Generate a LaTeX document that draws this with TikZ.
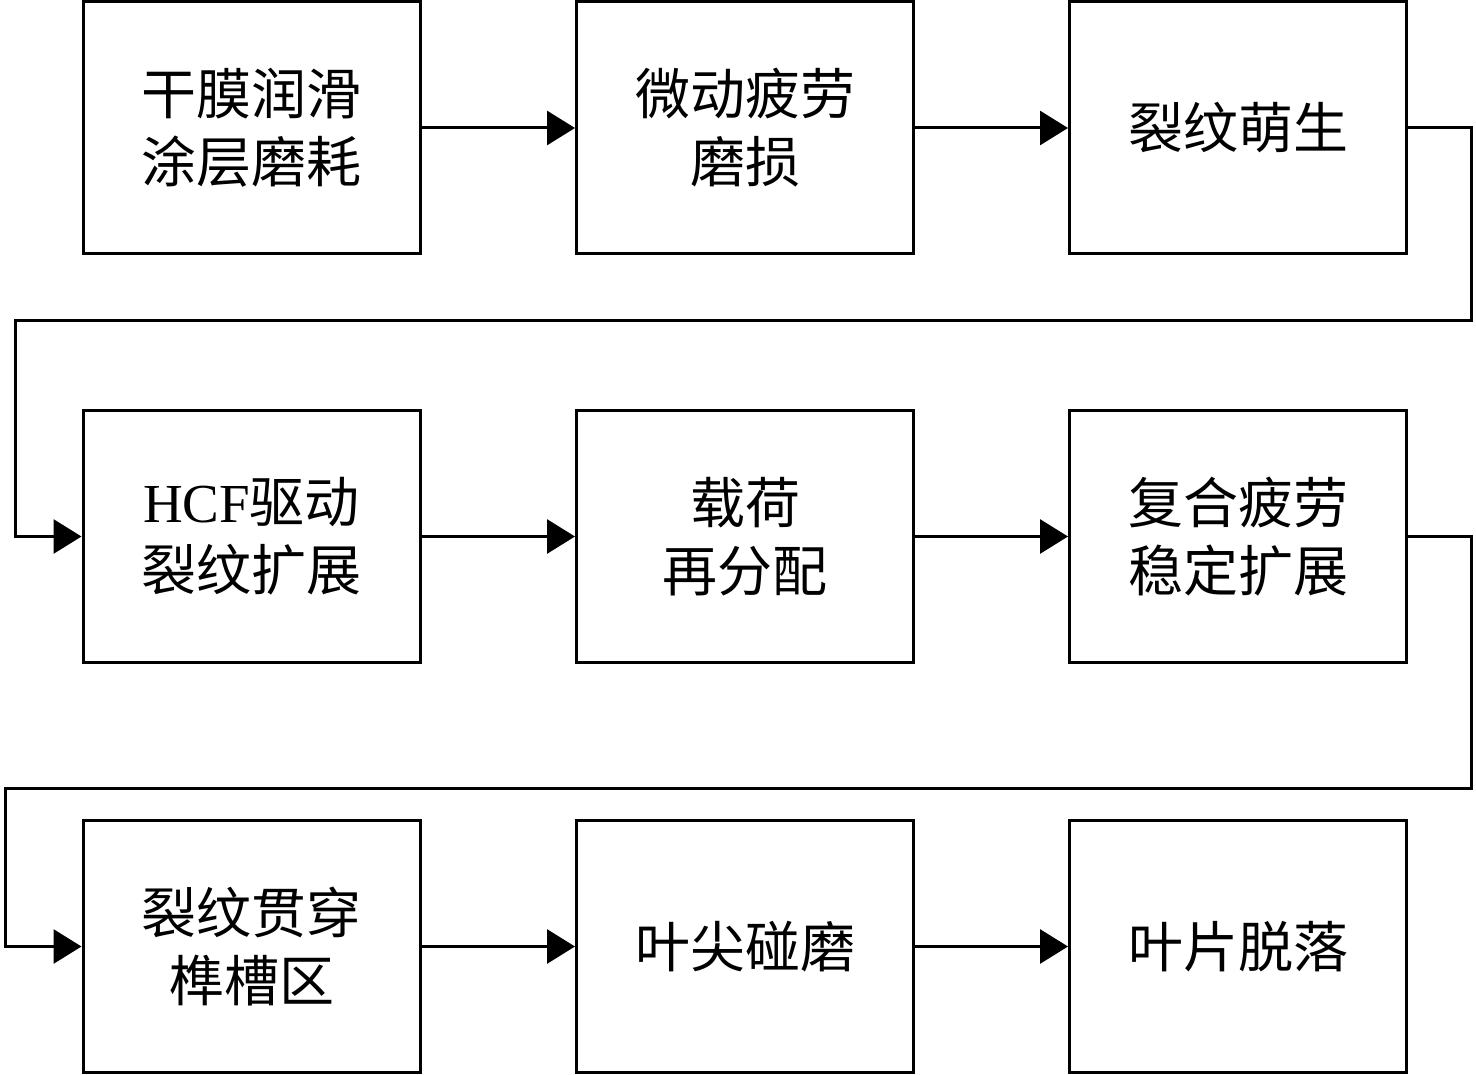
\documentclass[tikz,border=0pt]{standalone}
\usepackage{fontspec}
\setmainfont{Liberation Serif}
\newfontfamily\cjk{Noto Sans CJK SC}
\usetikzlibrary{arrows.meta}
\begin{document}
\begin{tikzpicture}[x=1pt,y=-1pt,
  box/.style={draw,line width=3pt,minimum width=337pt,minimum height=252pt,align=center,
    font=\fontsize{55pt}{68pt}\selectfont\cjk,inner sep=0pt},
  arr/.style={line width=3pt,-{Triangle[length=28pt,width=34pt]}}]
\useasboundingbox (0,0) rectangle (1476,1075);
\node[box] (a1) at (251.5,128) {干膜润滑\\涂层磨耗};
\node[box] (a2) at (745,128) {微动疲劳\\磨损};
\node[box] (a3) at (1238,128) {裂纹萌生};
\node[box] (b1) at (251.5,536.5) {{\rmfamily HCF}驱动\\裂纹扩展};
\node[box] (b2) at (745,536.5) {载荷\\再分配};
\node[box] (b3) at (1238,536.5) {复合疲劳\\稳定扩展};
\node[box] (c1) at (251.5,946.5) {裂纹贯穿\\榫槽区};
\node[box] (c2) at (745,946.5) {叶尖碰磨};
\node[box] (c3) at (1238,946.5) {叶片脱落};
\coordinate (t1) at (1471,321);
\coordinate (t2) at (15,321);
\coordinate (u1) at (1471,788);
\coordinate (u2) at (5,788);
\draw[arr] (a1) -- (a2);
\draw[arr] (a2) -- (a3);
\draw[arr] (a3.east) -| (t1) -- (t2) |- (b1.west);
\draw[arr] (b1) -- (b2);
\draw[arr] (b2) -- (b3);
\draw[arr] (b3.east) -| (u1) -- (u2) |- (c1.west);
\draw[arr] (c1) -- (c2);
\draw[arr] (c2) -- (c3);
\end{tikzpicture}
\end{document}
